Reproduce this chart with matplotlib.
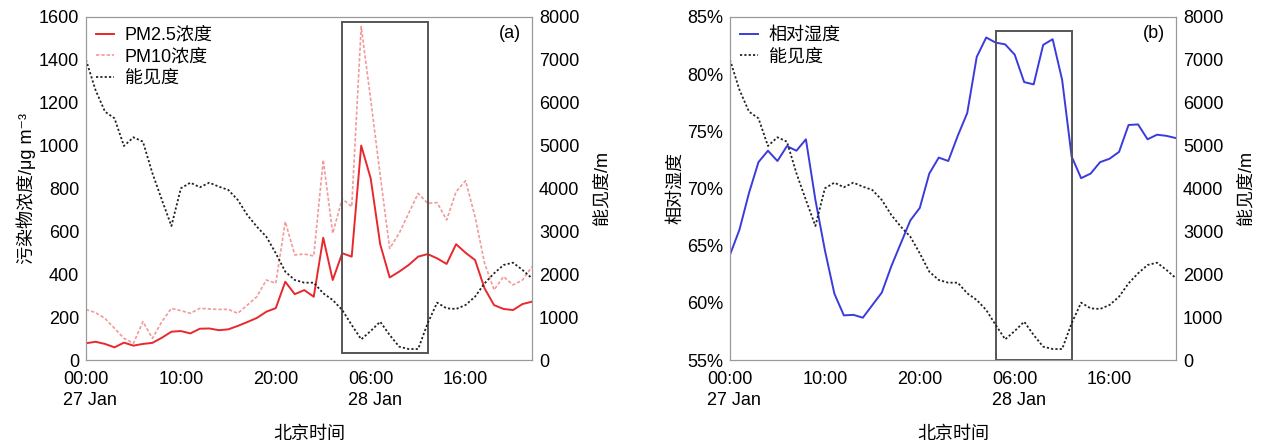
import numpy as np
import matplotlib
matplotlib.use('Agg')
from matplotlib import pyplot as plt
from matplotlib.patches import Rectangle

plt.rcParams['font.family'] = ['Liberation Sans', 'Noto Sans CJK SC', 'DejaVu Sans']

# hourly data, 00:00 27 Jan .. 23:00 28 Jan
hours = np.arange(48)
pm25 = [78, 85, 75, 59, 81, 67, 75, 80, 104, 132, 135, 124, 146, 147, 139, 143,
        159, 177, 196, 225, 242, 365, 307, 326, 295, 570, 373, 498, 482, 1000,
        847, 540, 385, 412, 443, 482, 494, 474, 448, 540, 500, 466, 334, 256,
        238, 233, 261, 272]
pm10 = [236, 221, 194, 148, 101, 78, 179, 101, 179, 241, 230, 218, 241, 238, 236, 236,
        218, 256, 295, 373, 358, 645, 490, 494, 485, 933, 591, 752, 715, 1555,
        1215, 862, 520, 591, 684, 777, 731, 734, 653, 785, 836, 668, 451, 327,
        389, 350, 373, 435]
vis = [7000, 6297, 5791, 5636, 4991, 5193, 5091, 4354, 3731, 3125, 4004, 4135, 4028, 4135, 4042, 3965,
       3731, 3381, 3109, 2876, 2488, 2060, 1866, 1803, 1803, 1555, 1399, 1166, 816, 482,
       676, 893, 583, 311, 256, 256, 855, 1337, 1205, 1190, 1283, 1477, 1788, 2021,
       2215, 2270, 2099, 1905]
rh = [64.2, 66.4, 69.6, 72.3, 73.3, 72.4, 73.7, 73.3, 74.3, 69.0, 64.6, 60.8, 58.9, 58.95, 58.7, 59.8,
      60.9, 63.2, 65.2, 67.2, 68.3, 71.3, 72.7, 72.4, 74.6, 76.6, 81.5, 83.2, 82.75, 82.6,
      81.7, 79.3, 79.1, 82.55, 83.05, 79.5, 72.8, 70.9, 71.3, 72.3, 72.6, 73.2, 75.55, 75.6,
      74.3, 74.7, 74.6, 74.4]

tick_pos = [0, 10, 20, 30, 40]
tick_lab = ['00:00', '10:00', '20:00', '06:00', '16:00']
date_lab = {0: '27 Jan', 30: '28 Jan'}

fs = 13
spine_c = '#999999'

fig = plt.figure(figsize=(12.61, 4.45), dpi=100)
axa = fig.add_axes([0.0682, 0.191, 0.3537, 0.771])
axb = fig.add_axes([0.5789, 0.191, 0.3537, 0.771])


def style(ax):
    for s in ax.spines.values():
        s.set_color(spine_c)
    ax.tick_params(length=0, labelsize=fs, pad=5)


def xaxis(ax):
    ax.set_xlim(0, 47)
    ax.set_xticks(tick_pos)
    ax.set_xticklabels(tick_lab)
    ax.tick_params(axis='x', pad=8)
    for k, d in date_lab.items():
        ax.annotate(d, xy=(k, 0), xycoords=('data', 'axes fraction'),
                    xytext=(-16.5, -23), textcoords='offset points',
                    ha='left', va='top', fontsize=fs)
    ax.set_xlabel('北京时间', fontsize=fs, labelpad=27)


def legend(ax, handles):
    ax.legend(handles=handles, loc='upper left', frameon=False, fontsize=fs,
              handlelength=1.0, labelspacing=0.25, borderaxespad=0.15, handletextpad=0.6)


# ---- (a)
style(axa)
l1, = axa.plot(hours, pm25, color='#e8282c', lw=1.4, label='PM2.5浓度')
l2, = axa.plot(hours, pm10, color='#f29a9a', lw=1.2, ls=(0, (2, 1.2)), label='PM10浓度')
axa.set_ylim(0, 1600)
axa.set_yticks(np.arange(0, 1601, 200))
axa.set_ylabel('污染物浓度/μg m⁻³', fontsize=fs, labelpad=2)
xaxis(axa)
axa2 = axa.twinx()
style(axa2)
l3, = axa2.plot(hours, vis, color='#222222', lw=1.3, ls=(0, (1.2, 1.2)), label='能见度')
axa2.set_ylim(0, 8000)
axa2.set_yticks(np.arange(0, 8001, 1000))
axa2.set_ylabel('能见度/m', fontsize=fs, labelpad=10)
axa.add_patch(Rectangle((27, 31), 9, 1547, fill=False, ec='#555555', lw=1.4, zorder=5))
legend(axa, [l1, l2, l3])
axa.text(0.975, 0.975, '(a)', transform=axa.transAxes, ha='right', va='top', fontsize=fs)

# ---- (b)
style(axb)
m1, = axb.plot(hours, rh, color='#3b3bdd', lw=1.4, label='相对湿度')
axb.set_ylim(55, 85)
axb.set_yticks(np.arange(55, 86, 5))
axb.set_yticklabels(['%d%%' % v for v in range(55, 86, 5)])
axb.set_ylabel('相对湿度', fontsize=fs, labelpad=2)
xaxis(axb)
axb2 = axb.twinx()
style(axb2)
m2, = axb2.plot(hours, vis, color='#222222', lw=1.3, ls=(0, (1.2, 1.2)), label='能见度')
axb2.set_ylim(0, 8000)
axb2.set_yticks(np.arange(0, 8001, 1000))
axb2.set_ylabel('能见度/m', fontsize=fs, labelpad=10)
axb.add_patch(Rectangle((28, 55), 8, 28.8, fill=False, ec='#555555', lw=1.4, zorder=5))
legend(axb, [m1, m2])
axb.text(0.975, 0.975, '(b)', transform=axb.transAxes, ha='right', va='top', fontsize=fs)

plt.savefig('out.png', dpi=100)
